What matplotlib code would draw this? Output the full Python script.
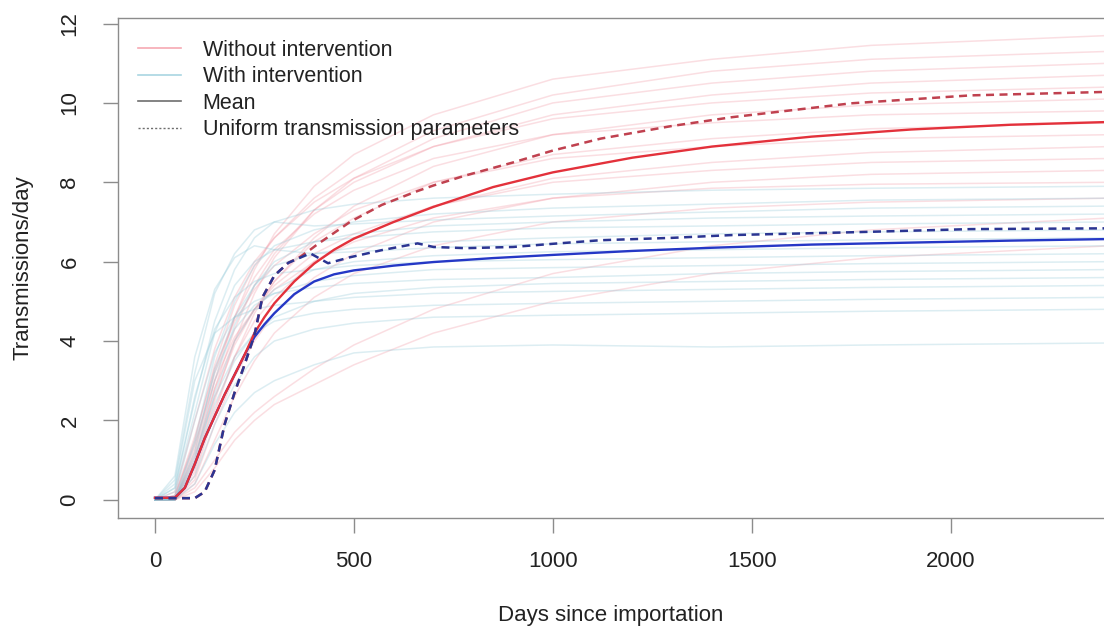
import matplotlib
matplotlib.use("Agg")
import matplotlib.pyplot as plt
from matplotlib.lines import Line2D

plt.rcParams['font.family'] = ['Liberation Sans', 'DejaVu Sans']

# ---- data ----
# individual simulation runs, sampled at these days
run_days = [0, 50, 100, 150, 200, 250, 300, 400, 500, 700, 1000, 1400, 1800, 2400]

runs_without = [
    [0, 0.0, 1.2, 3.0, 4.6, 5.8, 6.7, 7.9, 8.7, 9.7, 10.6, 11.1, 11.45, 11.7],
    [0, 0.1, 1.5, 3.4, 4.9, 5.9, 6.6, 7.6, 8.3, 9.3, 10.2, 10.8, 11.1, 11.3],
    [0, 0.0, 0.8, 2.5, 4.0, 5.2, 6.1, 7.3, 8.1, 9.1, 10.0, 10.5, 10.8, 11.0],
    [0, 0.0, 1.0, 2.8, 4.3, 5.4, 6.2, 7.3, 8.0, 8.9, 9.7, 10.2, 10.5, 10.7],
    [0, 0.2, 2.0, 3.8, 5.1, 6.0, 6.6, 7.5, 8.1, 8.9, 9.6, 10.0, 10.25, 10.4],
    [0, 0.0, 0.6, 2.2, 3.6, 4.7, 5.5, 6.6, 7.4, 8.4, 9.2, 9.7, 9.95, 10.1],
    [0, 0.0, 1.3, 3.2, 4.6, 5.6, 6.3, 7.2, 7.8, 8.6, 9.2, 9.5, 9.7, 9.8],
    [0, 0.0, 0.9, 2.6, 3.9, 4.8, 5.5, 6.5, 7.1, 8.0, 8.7, 9.1, 9.35, 9.5],
    [0, 0.1, 1.6, 3.3, 4.5, 5.3, 5.9, 6.7, 7.3, 8.0, 8.6, 8.9, 9.1, 9.2],
    [0, 0.0, 0.7, 2.3, 3.6, 4.5, 5.1, 6.0, 6.6, 7.4, 8.1, 8.5, 8.75, 8.9],
    [0, 0.0, 1.1, 2.8, 4.0, 4.8, 5.4, 6.2, 6.7, 7.4, 8.0, 8.3, 8.5, 8.6],
    [0, 0.0, 0.5, 1.9, 3.1, 4.0, 4.7, 5.6, 6.2, 7.0, 7.6, 8.0, 8.2, 8.3],
    [0, 0.1, 1.4, 3.0, 4.1, 4.8, 5.3, 6.0, 6.5, 7.1, 7.6, 7.85, 7.95, 8.0],
    [0, 0.0, 0.4, 1.5, 2.6, 3.5, 4.2, 5.1, 5.7, 6.4, 7.0, 7.35, 7.5, 7.6],
    [0, 0.0, 0.3, 1.0, 1.7, 2.2, 2.6, 3.3, 3.9, 4.8, 5.7, 6.4, 6.8, 7.1],
    [0, 0.0, 0.2, 0.8, 1.5, 2.0, 2.4, 2.9, 3.4, 4.2, 5.0, 5.7, 6.1, 6.4],
]

runs_with = [
    [0, 0.3, 2.5, 4.5, 5.8, 6.6, 7.0, 7.3, 7.45, 7.6, 7.7, 7.8, 7.85, 7.9],
    [0, 0.0, 1.5, 3.6, 5.0, 5.9, 6.4, 6.8, 7.0, 7.2, 7.35, 7.45, 7.55, 7.6],
    [0, 0.5, 3.2, 5.2, 6.2, 6.8, 7.0, 6.9, 6.95, 7.05, 7.15, 7.25, 7.35, 7.4],
    [0, 0.0, 1.0, 3.0, 4.4, 5.4, 6.0, 6.5, 6.7, 6.9, 7.0, 7.1, 7.15, 7.2],
    [0, 0.2, 2.2, 4.2, 5.4, 6.0, 6.3, 6.5, 6.6, 6.75, 6.85, 6.9, 6.95, 7.0],
    [0, 0.0, 1.2, 3.3, 4.6, 5.4, 5.9, 6.2, 6.35, 6.5, 6.6, 6.7, 6.75, 6.8],
    [0, 0.6, 3.6, 5.3, 6.1, 6.4, 6.3, 6.2, 6.25, 6.35, 6.45, 6.5, 6.55, 6.6],
    [0, 0.0, 0.9, 2.7, 4.0, 4.8, 5.3, 5.8, 6.0, 6.15, 6.25, 6.3, 6.35, 6.4],
    [0, 0.3, 2.6, 4.3, 5.1, 5.5, 5.7, 5.8, 5.9, 6.0, 6.05, 6.1, 6.15, 6.2],
    [0, 0.0, 1.4, 3.2, 4.3, 4.9, 5.2, 5.5, 5.65, 5.8, 5.85, 5.9, 5.95, 6.0],
    [0, 0.1, 2.0, 3.7, 4.6, 5.0, 5.2, 5.35, 5.45, 5.55, 5.6, 5.7, 5.75, 5.8],
    [0, 0.0, 0.8, 2.4, 3.5, 4.2, 4.6, 5.0, 5.2, 5.35, 5.45, 5.5, 5.55, 5.6],
    [0, 0.4, 3.0, 4.2, 4.6, 4.8, 4.9, 5.0, 5.1, 5.2, 5.25, 5.3, 5.35, 5.4],
    [0, 0.0, 1.1, 2.6, 3.6, 4.2, 4.5, 4.7, 4.8, 4.9, 4.95, 5.0, 5.05, 5.1],
    [0, 0.0, 0.6, 1.9, 2.9, 3.6, 4.0, 4.3, 4.45, 4.6, 4.65, 4.7, 4.75, 4.8],
    [0, 0.0, 0.4, 1.4, 2.2, 2.7, 3.0, 3.4, 3.7, 3.85, 3.9, 3.85, 3.9, 3.95],
]

# means over runs
mean_days = [0, 50, 75, 100, 125, 150, 175, 200, 225, 250, 275, 300, 350, 400,
             450, 500, 600, 700, 850, 1000, 1200, 1400, 1650, 1900, 2150, 2400]
mean_without = [0.05, 0.05, 0.3, 0.9, 1.55, 2.1, 2.65, 3.15, 3.65, 4.2, 4.6, 4.95,
                5.5, 5.95, 6.3, 6.58, 7.0, 7.38, 7.88, 8.25, 8.62, 8.9, 9.15, 9.33,
                9.45, 9.52]
mean_with = [0.05, 0.05, 0.3, 0.9, 1.55, 2.1, 2.65, 3.15, 3.65, 4.1, 4.42, 4.7,
             5.18, 5.5, 5.68, 5.78, 5.9, 5.99, 6.09, 6.17, 6.27, 6.35, 6.43, 6.48,
             6.53, 6.57]

# uniform transmission parameters
uni_days = [0, 50, 100, 125, 150, 175, 200, 225, 250, 270, 300, 335, 365, 390,
            410, 435, 490, 570, 660, 700, 780, 900, 1000, 1120, 1300, 1450, 1750,
            2050, 2400]
uni_without = [0.04, 0.04, 0.04, 0.2, 0.75, 1.9, 2.7, 3.4, 4.15, 5.1, 5.65, 5.97,
               6.12, 6.3, 6.45, 6.62, 7.0, 7.43, 7.78, 7.92, 8.17, 8.5, 8.8, 9.1,
               9.42, 9.64, 9.99, 10.19, 10.28]
uni_with = [0.04, 0.04, 0.04, 0.2, 0.75, 1.9, 2.7, 3.4, 4.15, 5.1, 5.65, 5.97,
            6.1, 6.21, 6.1, 5.96, 6.11, 6.29, 6.46, 6.37, 6.34, 6.37, 6.45, 6.54,
            6.6, 6.67, 6.74, 6.82, 6.84]

x_ticks = [0, 500, 1000, 1500, 2000]
y_ticks = [0, 2, 4, 6, 8, 10, 12]
legend_labels = ["Without intervention", "With intervention", "Mean",
                 "Uniform transmission parameters"]

# ---- figure ----
W, H = 1104, 630
fig = plt.figure(figsize=(W / 100, H / 100), dpi=100)
ax = fig.add_axes([118 / W, 112 / H, 999 / W, 500 / H])

pink = '#f08a98'
lightblue = '#8cc6d6'
for r in runs_without:
    ax.plot(run_days, r, color=pink, lw=1.1, alpha=0.28)
for r in runs_with:
    ax.plot(run_days, r, color=lightblue, lw=1.1, alpha=0.3)

ax.plot(mean_days, mean_with, color='#2538c6', lw=1.7)
ax.plot(mean_days, mean_without, color='#e3313b', lw=1.7)
ax.plot(uni_days, uni_without, color='#c0414f', lw=1.8, dashes=(3.2, 2.2))
ax.plot(uni_days, uni_with, color='#2b3592', lw=1.8, dashes=(3.2, 2.2))

ax.set_xlim(-93, 2418)
ax.set_ylim(-0.46, 12.14)
ax.set_xticks(x_ticks)
ax.set_yticks(y_ticks)

for s in ax.spines.values():
    s.set_color('#8c8c8c')
    s.set_linewidth(1.0)
ax.tick_params(axis='both', length=11, width=1.0, color='#8c8c8c',
               labelsize=16, labelcolor='#222222')
ax.tick_params(axis='x', pad=13)
ax.tick_params(axis='y', pad=16, labelrotation=90)
for t in ax.get_yticklabels():
    t.set_verticalalignment('center')

fig.text(611 / W, 1 - 615 / H, "Days since importation", ha='center',
         va='center', fontsize=16, color='#222222')
fig.text(23 / W, 1 - 268 / H, "Transmissions/day", ha='center', va='center',
         rotation=90, fontsize=16, color='#222222')

handles = [
    Line2D([], [], color='#f6a9b3', lw=1.2),
    Line2D([], [], color='#a9d6e2', lw=1.2),
    Line2D([], [], color='#6e6e6e', lw=1.2),
    Line2D([], [], color='#6e6e6e', lw=1.0, ls=(0, (1.5, 1.5))),
]
fig.legend(handles, legend_labels, loc='upper left',
           bbox_to_anchor=(138 / W, 1 - 40 / H), bbox_transform=fig.transFigure,
           frameon=False, fontsize=15.5, borderpad=0, borderaxespad=0,
           handlelength=2.0, handletextpad=1.0, labelspacing=0.25,
           labelcolor='#222222')

fig.savefig('out.png', dpi=100)
